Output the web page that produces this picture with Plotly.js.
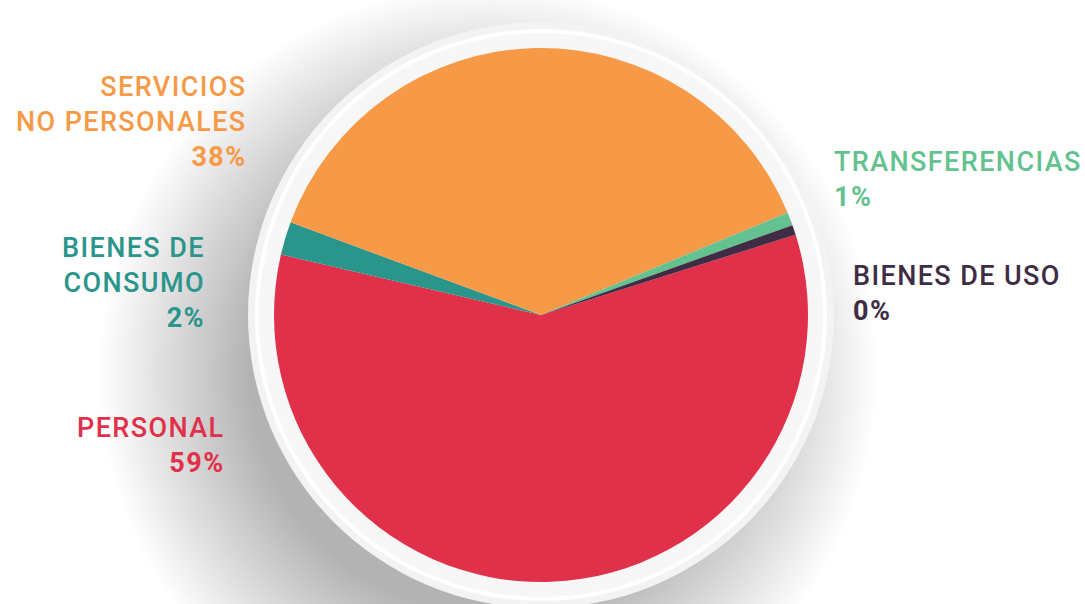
<!DOCTYPE html>
<html>
<head>
<meta charset="utf-8">
<script src="https://cdn.plot.ly/plotly-3.0.1.min.js"></script>
<style>
  html, body { margin: 0; padding: 0; background: #ffffff; }
  #chart { width: 1085px; height: 604px; }
  .annotation-text, .annotation-text tspan { letter-spacing: 1.4px; }
</style>
</head>
<body>
<div id="chart"></div>
<script>
// ---- data ----
var categories = ['PERSONAL', 'BIENES DE CONSUMO', 'SERVICIOS NO PERSONALES', 'TRANSFERENCIAS', 'BIENES DE USO'];
var values = [58.5, 2.0, 38.1, 0.8, 0.6];
var pctLabels = ['59%', '2%', '38%', '1%', '0%'];
var nameLines = [['PERSONAL'], ['BIENES DE', 'CONSUMO'], ['SERVICIOS', 'NO PERSONALES'], ['TRANSFERENCIAS'], ['BIENES DE USO']];
var colors = ['#E0304A', '#2A958B', '#F79A47', '#63C28F', '#402C45'];

// ---- layout helpers ----
var W = 1085, H = 604;
var cx = 541, cy = 315, R = 267;
function px(x) { return x / W; }
function py(y) { return 1 - y / H; }

// label placement (pixels): x edge, y centre of block, anchor side
var labelPos = [
  {x: 227, y: 445, anchor: 'right'},
  {x: 207, y: 283, anchor: 'right'},
  {x: 249, y: 122, anchor: 'right'},
  {x: 832, y: 179, anchor: 'left'},
  {x: 851, y: 294, anchor: 'left'}
];

var annotations = categories.map(function (c, i) {
  var p = labelPos[i];
  return {
    xref: 'paper', yref: 'paper',
    x: px(p.x), y: py(p.y),
    xanchor: p.anchor, yanchor: 'middle',
    align: p.anchor,
    showarrow: false,
    text: nameLines[i].join('<br>') + '<br><b>' + pctLabels[i] + '</b>',
    font: {family: 'Roboto, "Open Sans", sans-serif', size: 27, color: colors[i], weight: 500}
  };
});

// decorative halo + soft drop shadow behind the pie
var shapes = [];
var shCx = 488, shCy = 374;
for (var k = 0; k < 38; k++) {
  var r = 240 + k * 4;
  shapes.push({
    type: 'circle', layer: 'below',
    xref: 'paper', yref: 'paper',
    xsizemode: 'pixel', ysizemode: 'pixel',
    xanchor: px(shCx), yanchor: py(shCy),
    x0: -r, x1: r, y0: -r, y1: r,
    fillcolor: 'rgba(0,0,0,0.0072)',
    line: {width: 0}
  });
}
var ringR = 293;
shapes.push({
  type: 'circle', layer: 'below',
  xref: 'paper', yref: 'paper',
  xsizemode: 'pixel', ysizemode: 'pixel',
  xanchor: px(cx), yanchor: py(cy),
  x0: -ringR, x1: ringR, y0: -ringR, y1: ringR,
  fillcolor: '#f3f3f3',
  line: {width: 0}
});
var whiteR = 284;
shapes.push({
  type: 'circle', layer: 'below',
  xref: 'paper', yref: 'paper',
  xsizemode: 'pixel', ysizemode: 'pixel',
  xanchor: px(cx), yanchor: py(cy),
  x0: -whiteR, x1: whiteR, y0: -whiteR, y1: whiteR,
  fillcolor: '#f7f7f7',
  line: {width: 4, color: '#ffffff'}
});

var trace = {
  type: 'pie',
  labels: categories,
  values: values,
  sort: false,
  direction: 'clockwise',
  rotation: 72.5,
  marker: {colors: colors, line: {width: 0}},
  textinfo: 'none',
  hoverinfo: 'label+percent',
  showlegend: false,
  domain: {x: [px(cx - R), px(cx + R)], y: [py(cy + R), py(cy - R)]}
};

var layout = {
  width: W, height: H,
  margin: {l: 0, r: 0, t: 0, b: 0},
  paper_bgcolor: '#ffffff',
  plot_bgcolor: '#ffffff',
  showlegend: false,
  shapes: shapes,
  annotations: annotations
};

Plotly.newPlot('chart', [trace], layout, {displayModeBar: false, staticPlot: true});
</script>
</body>
</html>
